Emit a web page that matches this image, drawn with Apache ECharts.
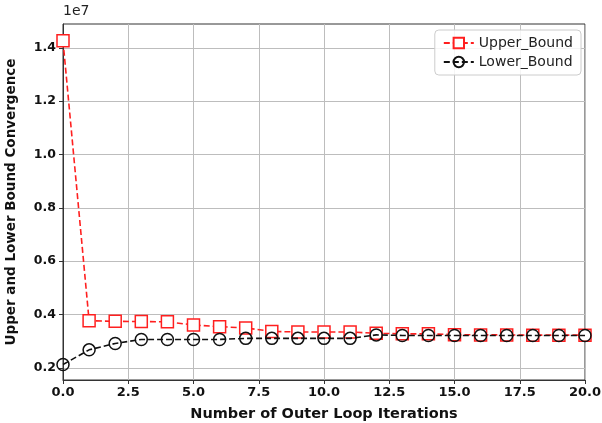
<!DOCTYPE html>
<html>
<head>
<meta charset="utf-8">
<script src="https://cdn.jsdelivr.net/npm/echarts@6/dist/echarts.min.js"></script>
<style>html,body{margin:0;padding:0;background:#fff}#c{width:602px;height:423px}</style>
</head>
<body>
<div id="c"></div>
<script>
// Values in units of 1e7
const iterations = [0,1,2,3,4,5,6,7,8,9,10,11,12,13,14,15,16,17,18,19,20];
const upperBound = [1.426,0.377,0.375,0.374,0.373,0.361,0.355,0.350,0.337,0.335,0.335,0.335,0.330,0.328,0.328,0.325,0.324,0.324,0.323,0.323,0.323];
const lowerBound = [0.213,0.268,0.292,0.307,0.307,0.307,0.307,0.311,0.311,0.311,0.311,0.311,0.324,0.322,0.322,0.322,0.322,0.322,0.322,0.322,0.322];
const yTicks = [0.2,0.4,0.6,0.8,1.0,1.2,1.4];
const seriesNames = ['Upper_Bound','Lower_Bound'];

const font = 'DejaVu Sans';
const chart = echarts.init(document.getElementById('c'), null, {renderer:'canvas'});
chart.setOption({
  animation:false,
  textStyle:{fontFamily:font},
  grid:{left:63,right:17,top:24,bottom:43,show:true,borderColor:'#333',borderWidth:1,backgroundColor:'transparent',
        containLabel:false,outerBoundsMode:'none'},
  graphic:[{type:'text',left:63,top:4,style:{text:'1e7',font:'14px "DejaVu Sans"',fill:'#222'}}],
  legend:{
    right:21,top:30,orient:'vertical',itemGap:5,itemWidth:30,itemHeight:13,
    backgroundColor:'rgba(255,255,255,0.85)',borderColor:'#ccc',borderWidth:1,borderRadius:4,padding:[6,8,6,8],
    textStyle:{fontFamily:font,fontSize:14,color:'#222'},
    data:seriesNames
  },
  xAxis:{
    type:'value',min:0,max:20,interval:2.5,
    name:'Number of Outer Loop Iterations',nameLocation:'middle',nameGap:27,
    nameTextStyle:{fontFamily:font,fontWeight:'bold',fontSize:14.5,color:'#111'},
    axisLine:{show:true,lineStyle:{color:'#333'}},
    axisTick:{show:true,length:4,lineStyle:{color:'#333'}},
    axisLabel:{fontFamily:font,fontWeight:'bold',fontSize:13,color:'#111',margin:6,formatter:v=>v.toFixed(1)},
    splitLine:{show:true,lineStyle:{color:'#bdbdbd',width:1}}
  },
  yAxis:{
    type:'value',min:0.155,max:1.489,
    name:'Upper and Lower Bound Convergence',nameLocation:'middle',nameGap:45,
    nameTextStyle:{fontFamily:font,fontWeight:'bold',fontSize:13.5,color:'#111'},
    axisLine:{show:true,lineStyle:{color:'#333'}},
    axisTick:{show:true,length:4,lineStyle:{color:'#333'},customValues:yTicks},
    axisLabel:{fontFamily:font,fontWeight:'bold',fontSize:12.5,color:'#111',margin:7,customValues:yTicks,formatter:v=>v.toFixed(1)},
    splitLine:{show:true,lineStyle:{color:'#bdbdbd',width:1}}
  },
  series:[
    {name:seriesNames[0],type:'line',data:iterations.map((x,i)=>[x,upperBound[i]]),
     symbol:'rect',symbolSize:12,showAllSymbol:true,
     itemStyle:{color:'#fff',borderColor:'#ff1f1f',borderWidth:1.5},
     lineStyle:{color:'#ff1f1f',width:1.6,type:[6,3]},z:2},
    {name:seriesNames[1],type:'line',data:iterations.map((x,i)=>[x,lowerBound[i]]),
     symbol:'circle',symbolSize:12,showAllSymbol:true,
     itemStyle:{color:'rgba(255,255,255,0)',borderColor:'#111',borderWidth:1.5},
     lineStyle:{color:'#111',width:1.6,type:[6,3]},z:3}
  ]
});
</script>
</body>
</html>
